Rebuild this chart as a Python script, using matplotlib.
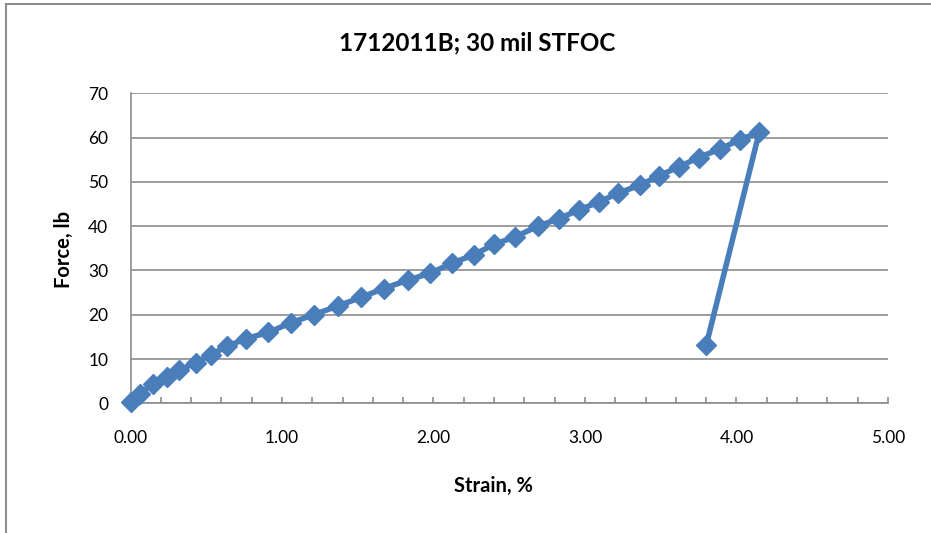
import matplotlib.pyplot as plt
from matplotlib.lines import Line2D
from matplotlib.ticker import MultipleLocator

plt.rcParams['font.family'] = ['Lato', 'DejaVu Sans']

# strain (%) and force (lb)
strain = [0.00, 0.06, 0.15, 0.24, 0.32, 0.43, 0.53, 0.64, 0.76, 0.91,
          1.06, 1.21, 1.37, 1.52, 1.67, 1.83, 1.98, 2.12, 2.27, 2.40,
          2.54, 2.69, 2.83, 2.96, 3.09, 3.22, 3.36, 3.49, 3.62, 3.75,
          3.89, 4.02, 4.15, 3.80]
force = [0.2, 2.2, 4.4, 5.9, 7.5, 9.1, 11.0, 12.9, 14.6, 16.0,
         18.2, 20.0, 22.0, 23.9, 25.9, 27.8, 29.4, 31.6, 33.6, 35.9,
         37.6, 40.0, 41.7, 43.7, 45.4, 47.5, 49.2, 51.4, 53.4, 55.5,
         57.4, 59.5, 61.2, 13.1]

W, H = 931, 533
fig = plt.figure(figsize=(W / 100, H / 100), dpi=100)
ax = fig.add_axes([130.5 / W, 1 - 403.3 / H, (888 - 130.5) / W, (403.3 - 93.3) / H])

blue = '#4A7EBB'
ax.plot(strain, force, color=blue, lw=4, marker='D', ms=10,
        mfc=blue, mec=blue, clip_on=False, zorder=3)

ax.set_xlim(0, 5)
ax.set_ylim(0, 70)
ax.xaxis.set_major_locator(MultipleLocator(1))
ax.xaxis.set_minor_locator(MultipleLocator(0.2))
ax.yaxis.set_major_locator(MultipleLocator(10))
ax.xaxis.set_major_formatter(lambda v, p: f"{v:.2f}")
ax.grid(axis='y', color='#8c8c8c', lw=1.2)
ax.set_axisbelow(True)

for s in ['top', 'right']:
    ax.spines[s].set_visible(False)
for s in ['left', 'bottom']:
    ax.spines[s].set_color('#8c8c8c')
    ax.spines[s].set_linewidth(1.2)

ax.tick_params(axis='x', which='both', direction='in', length=4.5,
               color='#8c8c8c', width=1.2, pad=19, labelsize=12.5)
ax.tick_params(axis='y', length=0, pad=16, labelsize=12.5)

fig.text(477 / W, 1 - 43 / H, "1712011B; 30 mil STFOC", ha='center', va='center',
         fontsize=17.5, fontweight='bold')
fig.text(493 / W, 1 - 486 / H, "Strain, %", ha='center', va='center',
         fontsize=14.5, fontweight='bold')
fig.text(63.5 / W, 1 - 249 / H, "Force, lb", ha='center', va='center',
         rotation=90, fontsize=14.5, fontweight='bold')

# chart frame (only left and top edges are inside the picture)
fig.add_artist(Line2D([5.5 / W, 5.5 / W], [0, 1 - 3.5 / H], transform=fig.transFigure,
                      color='#8c8c8c', lw=1.5))
fig.add_artist(Line2D([5.5 / W, 1], [1 - 3.5 / H, 1 - 3.5 / H], transform=fig.transFigure,
                      color='#8c8c8c', lw=1.5))

fig.savefig('out.png', dpi=100)
